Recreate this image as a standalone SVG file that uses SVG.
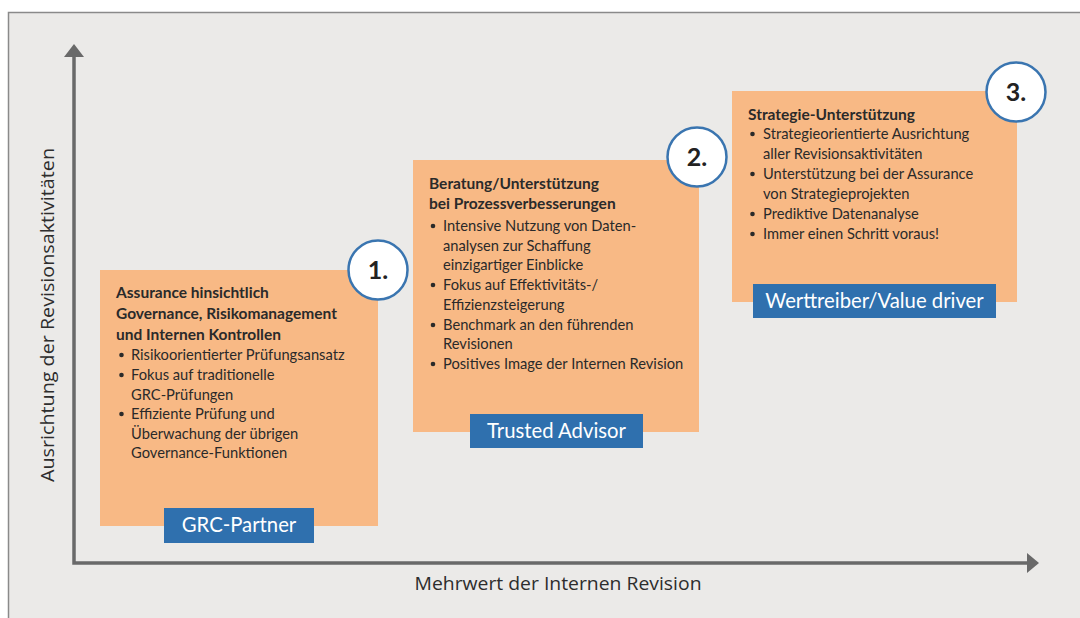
<svg xmlns="http://www.w3.org/2000/svg" width="1080" height="618" viewBox="0 0 1080 618">
  <defs>
    <style>
      .frame { fill: #ebeae8; stroke: #8a8a8a; stroke-width: 1.5; }
      .axis { stroke: #696969; stroke-width: 3.5; fill: none; }
      .head { fill: #696969; }
      .card { fill: #f8b985; }
      .tag { fill: #2f70ae; }
      .tag-text { font-family: Lato, "Liberation Sans", sans-serif; font-size: 20.3px; fill: #ffffff; text-anchor: middle; }
      .badge { fill: #ffffff; stroke: #3a75b0; stroke-width: 2.5; }
      .badge-text { font-family: Lato, "Liberation Sans", sans-serif; font-size: 25px; font-weight: bold; fill: #222222; text-anchor: middle; }
      .title { font-family: Lato, "Liberation Sans", sans-serif; font-size: 15.5px; font-weight: bold; fill: #2a2a2a; }
      .body { font-family: Lato, "Liberation Sans", sans-serif; font-size: 14.7px; fill: #2a2a2a; }
      .dot { fill: #2a2a2a; }
      .axis-label { font-family: "Open Sans", "Liberation Sans", sans-serif; font-size: 18.5px; fill: #2d2d2d; text-anchor: middle; }
    </style>
  </defs>

  <!-- panel -->
  <rect class="frame" x="8.5" y="12.5" width="1090" height="620"/>

  <!-- axes -->
  <g id="connectors">
    <polyline class="axis" points="74,56 74,563 1028,563"/>
    <polygon class="head" points="74,44 64,57 84,57"/>
    <polygon class="head" points="1039,563 1027,553 1027,573"/>
  </g>

  <text class="axis-label" x="558" y="590" textLength="287" lengthAdjust="spacingAndGlyphs">Mehrwert der Internen Revision</text>
  <text class="axis-label" transform="translate(54,315) rotate(-90)" textLength="334" lengthAdjust="spacingAndGlyphs">Ausrichtung der Revisionsaktivitäten</text>

  <!-- stage 1 -->
  <g id="stage-grc">
    <rect class="card" x="100" y="270" width="278" height="256"/>
    <text class="title" x="116" y="298">Assurance hinsichtlich</text>
    <text class="title" x="116" y="319">Governance, Risikomanagement</text>
    <text class="title" x="116" y="340">und Internen Kontrollen</text>
    <circle class="dot" cx="121.5" cy="355" r="2.3"/>
    <text class="body" x="131" y="360">Risikoorientierter Prüfungsansatz</text>
    <circle class="dot" cx="121.5" cy="375" r="2.3"/>
    <text class="body" x="131" y="380">Fokus auf traditionelle</text>
    <text class="body" x="131" y="400">GRC-Prüfungen</text>
    <circle class="dot" cx="121.5" cy="414" r="2.3"/>
    <text class="body" x="131" y="419">Effiziente Prüfung und</text>
    <text class="body" x="131" y="439">Überwachung der übrigen</text>
    <text class="body" x="131" y="458">Governance-Funktionen</text>
    <rect class="tag" x="164" y="508" width="150" height="35"/>
    <text class="tag-text" x="239" y="532">GRC-Partner</text>
  </g>
  <g id="badge-1">
    <circle class="badge" cx="378" cy="270" r="29.5"/>
    <text class="badge-text" x="378" y="279">1.</text>
  </g>

  <!-- stage 2 -->
  <g id="stage-advisor">
    <rect class="card" x="413" y="160" width="286" height="272"/>
    <text class="title" x="429" y="189">Beratung/Unterstützung</text>
    <text class="title" x="429" y="209">bei Prozessverbesserungen</text>
    <circle class="dot" cx="433" cy="226" r="2.3"/>
    <text class="body" x="443" y="231">Intensive Nutzung von Daten-</text>
    <text class="body" x="443" y="251">analysen zur Schaffung</text>
    <text class="body" x="443" y="270">einzigartiger Einblicke</text>
    <circle class="dot" cx="433" cy="285" r="2.3"/>
    <text class="body" x="443" y="290">Fokus auf Effektivitäts-/</text>
    <text class="body" x="443" y="310">Effizienzsteigerung</text>
    <circle class="dot" cx="433" cy="325" r="2.3"/>
    <text class="body" x="443" y="330">Benchmark an den führenden</text>
    <text class="body" x="443" y="349">Revisionen</text>
    <circle class="dot" cx="433" cy="364" r="2.3"/>
    <text class="body" x="443" y="369">Positives Image der Internen Revision</text>
    <rect class="tag" x="470" y="414" width="173" height="34"/>
    <text class="tag-text" x="556.5" y="438">Trusted Advisor</text>
  </g>
  <g id="badge-2">
    <circle class="badge" cx="697" cy="157" r="29.5"/>
    <text class="badge-text" x="697" y="166">2.</text>
  </g>

  <!-- stage 3 -->
  <g id="stage-value">
    <rect class="card" x="732" y="91" width="285" height="211"/>
    <text class="title" x="748" y="120">Strategie-Unterstützung</text>
    <circle class="dot" cx="752.5" cy="134" r="2.3"/>
    <text class="body" x="763" y="139">Strategieorientierte Ausrichtung</text>
    <text class="body" x="763" y="159">aller Revisionsaktivitäten</text>
    <circle class="dot" cx="752.5" cy="174" r="2.3"/>
    <text class="body" x="763" y="179">Unterstützung bei der Assurance</text>
    <text class="body" x="763" y="199">von Strategieprojekten</text>
    <circle class="dot" cx="752.5" cy="214" r="2.3"/>
    <text class="body" x="763" y="219">Prediktive Datenanalyse</text>
    <circle class="dot" cx="752.5" cy="234" r="2.3"/>
    <text class="body" x="763" y="239">Immer einen Schritt voraus!</text>
    <rect class="tag" x="753" y="284" width="243" height="34"/>
    <text class="tag-text" x="874.5" y="308">Werttreiber/Value driver</text>
  </g>
  <g id="badge-3">
    <circle class="badge" cx="1016" cy="92" r="29.5"/>
    <text class="badge-text" x="1016" y="101">3.</text>
  </g>
</svg>
